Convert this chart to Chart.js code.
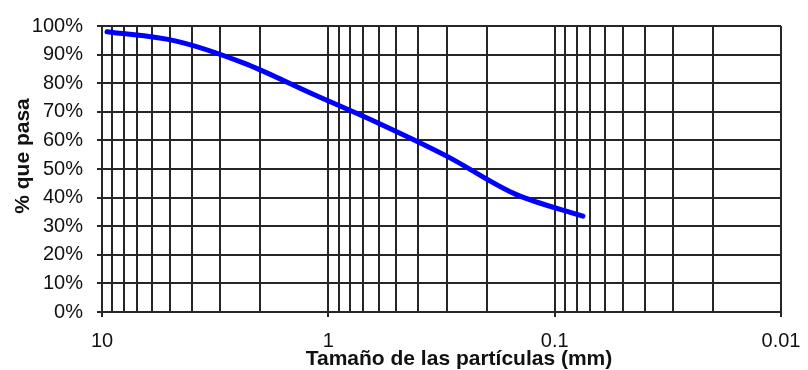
<!DOCTYPE html>
<html>
<head>
<meta charset="utf-8">
<script src="https://cdn.jsdelivr.net/npm/chart.js@4/dist/chart.umd.min.js"></script>
<style>
  html, body { margin: 0; padding: 0; background: #ffffff; }
  #wrap { width: 808px; height: 370px; }
</style>
</head>
<body>
<div id="wrap"><canvas id="c" width="808" height="370"></canvas></div>
<script>
// Granulometric curve: sieve opening (mm) vs. percent passing
const sieveSizesMm = [9.5, 4.75, 2.36, 1.18, 0.6, 0.3, 0.15, 0.075];
const percentPassing = [98.0, 94.8, 87.0, 76.3, 66.0, 54.5, 41.3, 33.5];

// Labelled decades on the size axis and the percent tick labels
const xTickLabels = ['10', '1', '0.1', '0.01'];
const yTickLabels = ['0%', '10%', '20%', '30%', '40%', '50%', '60%', '70%', '80%', '90%', '100%'];

const xAxisTitle = 'Tamaño de las partículas (mm)';
const yAxisTitle = '% que pasa';

const GRID = '#262626';
const TEXT = '#111111';
const TICK_FONT = { family: 'Liberation Sans, Arial, sans-serif', size: 20 };

const xLabelValues = xTickLabels.map(Number);
const labelIndex = v => xLabelValues.findIndex(l => Math.abs(Math.log10(v) - Math.log10(l)) < 1e-6);

// Every 1..9 x 10^k line between the outer decades of the log scale
function logGridTicks(min, max) {
  const out = [];
  for (let e = Math.round(Math.log10(min)); e < Math.round(Math.log10(max)); e++) {
    for (let m = 1; m <= 9; m++) out.push({ value: +(m * Math.pow(10, e)).toPrecision(6) });
  }
  out.push({ value: max });
  return out;
}

// Axis titles placed by hand
const axisTitles = {
  id: 'axisTitles',
  afterDraw(chart) {
    const ctx = chart.ctx;
    ctx.save();
    ctx.fillStyle = TEXT;
    ctx.font = 'bold 21px "Liberation Sans", Arial, sans-serif';
    ctx.textAlign = 'center';
    ctx.textBaseline = 'alphabetic';
    ctx.fillText(xAxisTitle, 459, 365);
    ctx.translate(29, 156);
    ctx.rotate(-Math.PI / 2);
    ctx.fillText(yAxisTitle, 0, 0);
    ctx.restore();
  }
};

new Chart(document.getElementById('c'), {
  type: 'line',
  data: {
    datasets: [{
      data: sieveSizesMm.map((s, i) => ({ x: s, y: percentPassing[i] })),
      borderColor: '#0000ff',
      borderWidth: 5,
      borderCapStyle: 'round',
      borderJoinStyle: 'round',
      pointRadius: 0,
      cubicInterpolationMode: 'monotone',
      fill: false
    }]
  },
  options: {
    responsive: false,
    animation: false,
    devicePixelRatio: 1,
    layout: { padding: { top: 22, right: 27, bottom: 0, left: 0 } },
    plugins: { legend: { display: false }, tooltip: { enabled: false } },
    scales: {
      x: {
        type: 'logarithmic',
        reverse: true,
        min: 0.01,
        max: 10,
        afterBuildTicks: s => { s.ticks = logGridTicks(0.01, 10); },
        afterFit: s => { s.height = 58; },
        grid: {
          color: GRID,
          lineWidth: 2,
          drawTicks: true,
          tickLength: 5,
          tickColor: c => (c.tick && labelIndex(c.tick.value) >= 0) ? GRID : 'rgba(0,0,0,0)'
        },
        border: { display: true, color: GRID, width: 2 },
        ticks: {
          autoSkip: false,
          maxRotation: 0,
          padding: 12,
          color: TEXT,
          font: TICK_FONT,
          callback: v => { const i = labelIndex(v); return i >= 0 ? xTickLabels[i] : ''; }
        }
      },
      y: {
        min: 0,
        max: 100,
        afterFit: s => { s.width = 102; },
        grid: { color: GRID, lineWidth: 2, tickLength: 5, tickColor: GRID },
        border: { display: true, color: GRID, width: 2 },
        ticks: {
          stepSize: 10,
          padding: 14,
          color: TEXT,
          font: TICK_FONT,
          callback: v => yTickLabels[Math.round(v / 10)]
        }
      }
    }
  },
  plugins: [axisTitles]
});
</script>
</body>
</html>
